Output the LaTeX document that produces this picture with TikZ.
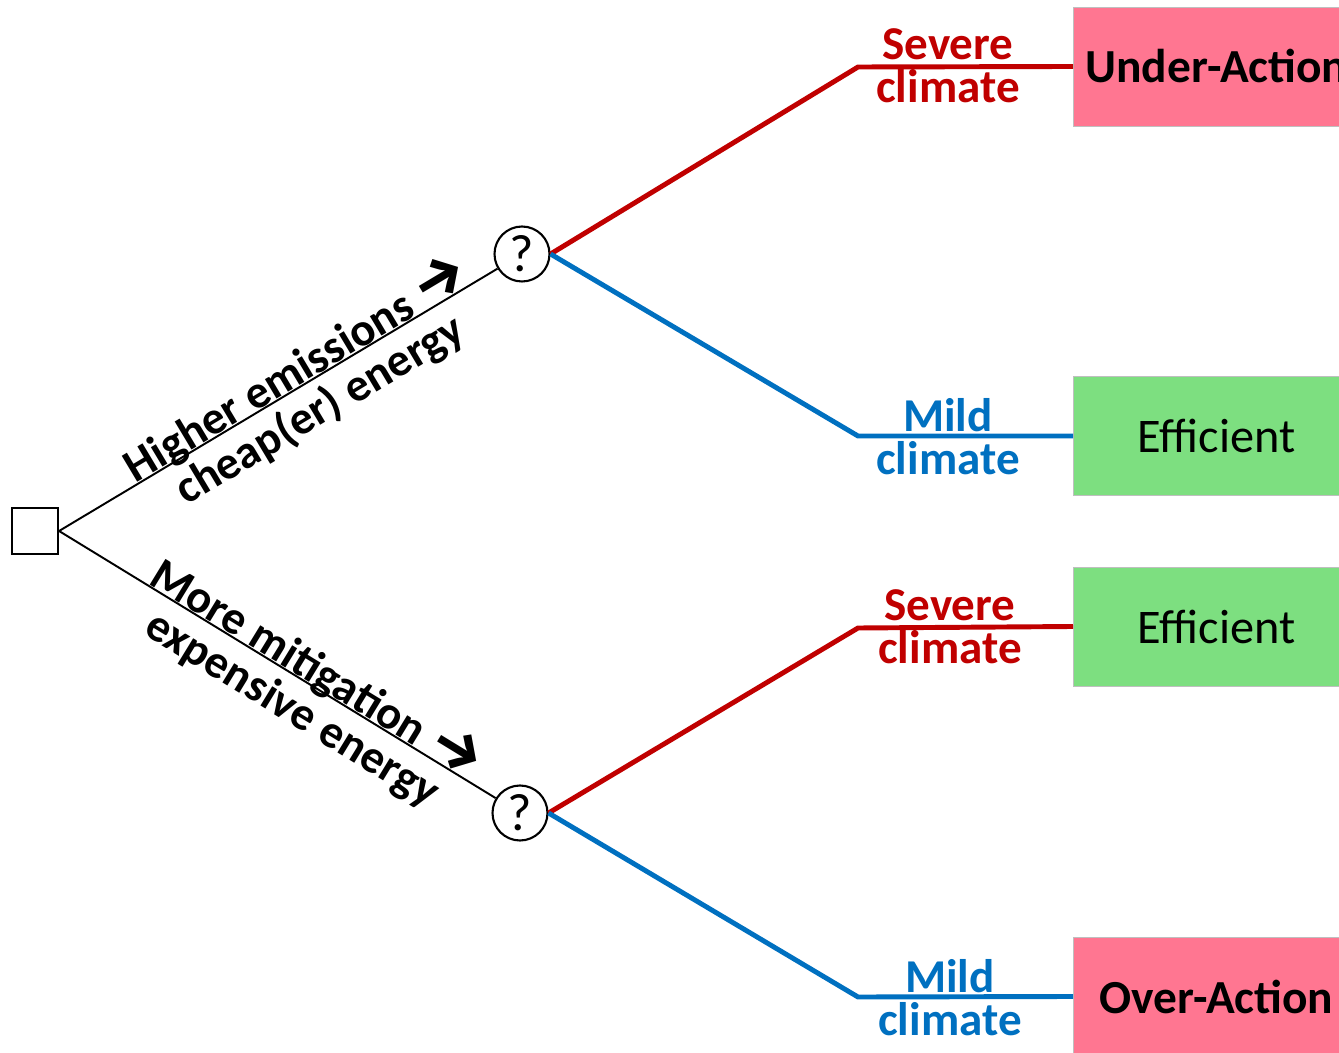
\documentclass[tikz,border=0pt]{standalone}
\usepackage{fontspec}
\setmainfont{Carlito}
\newfontfamily\arrowfont{Fira Sans}
\usetikzlibrary{positioning, calc}
\definecolor{sevred}{HTML}{C00000}
\definecolor{mildblue}{HTML}{0070C0}
\definecolor{badpink}{HTML}{FF7691}
\definecolor{goodgreen}{HTML}{7DDF80}
\newcommand{\choicearrow}{{\arrowfont\fontsize{34}{26}\selectfont →}}

\begin{document}
\begin{tikzpicture}[x=0.02cm, y=-0.02cm,
    decision/.style={draw, line width=1.2pt, minimum size=0.92cm, inner sep=0pt},
    chance/.style={circle, draw, line width=1.2pt, minimum size=1.1cm, inner sep=0pt,
                   font=\fontsize{30}{30}\selectfont},
    outcome/.style={anchor=west, minimum width=5.72cm, minimum height=2.38cm, inner sep=0pt,
                    draw=black!25, line width=0.4pt},
    choice/.style={black, line width=1.1pt},
    redline/.style={sevred, line width=2.8pt},
    blueline/.style={mildblue, line width=2.8pt},
    climlabel/.style={align=center, inner sep=0pt, font=\bfseries\fontsize{26.8}{24.6}\selectfont},
    choicelabel/.style={sloped, align=center, inner sep=0pt, font=\bfseries\fontsize{26.5}{26}\selectfont}]
      \useasboundingbox (0,0) rectangle (1339,1053);
      % Decision and chance nodes
      \node[decision] (root) at (35,531) {};
      \node[chance] (c1) at (522,254) {?};
      \node[chance] (c2) at (520,813) {?};
      % Bends of the climate branches
      \coordinate (k1) at (858,67);
      \coordinate (k2) at (858,436);
      \coordinate (k3) at (858,628);
      \coordinate (k4) at (858,997);
      % Outcome boxes
      \node[outcome, fill=badpink, font=\bfseries\fontsize{27}{27}\selectfont] (b1) at (1073,66.5) {Under-Action};
      \node[outcome, fill=goodgreen, font=\fontsize{27.5}{27}\selectfont] (b2) at (1073,436) {Efficient};
      \node[outcome, fill=goodgreen, font=\fontsize{27.5}{27}\selectfont] (b3) at (1073,626.5) {Efficient};
      \node[outcome, fill=badpink, font=\bfseries\fontsize{27}{27}\selectfont] (b4) at (1073,996.5) {Over-Action};
      % Policy choices
      \draw[choice] (root.east) -- node[choicelabel, pos=0.56, yshift=-3pt]
            {Higher emissions \choicearrow\\cheap(er) energy} (c1);
      \draw[choice] (root.east) -- node[choicelabel, pos=0.57, yshift=-3pt]
            {More mitigation \choicearrow\\expensive energy} (c2);
      % Climate outcomes
      \draw[redline] (c1.east) -- (k1) -- (b1.west);
      \draw[blueline] (c1.east) -- (k2) -- (b2.west);
      \draw[redline] (c2.east) -- (k3) -- (b3.west);
      \draw[blueline] (c2.east) -- (k4) -- (b4.west);
      \node[climlabel, sevred] (s1) at (948,66) {Severe\\climate};
      \node[climlabel, mildblue] (m1) at (948,437) {Mild\\climate};
      \node[climlabel, sevred] (s2) at (950,627) {Severe\\climate};
      \node[climlabel, mildblue] (m2) at (950,998) {Mild\\climate};
    \end{tikzpicture}
\end{document}
